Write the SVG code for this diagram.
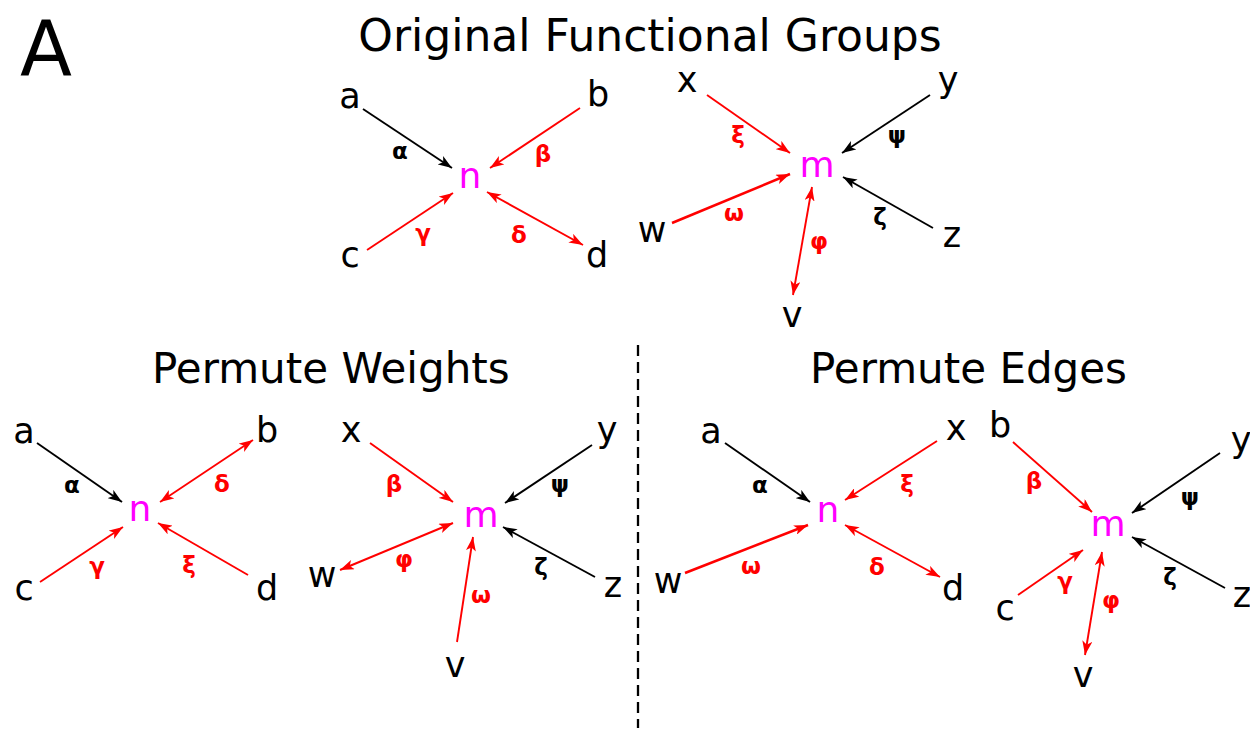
<svg xmlns="http://www.w3.org/2000/svg" width="1250" height="730" viewBox="0 0 1250 730">
<defs>
<marker id="hb" viewBox="0 0 14 10" refX="14" refY="5" markerWidth="14" markerHeight="10" markerUnits="userSpaceOnUse" orient="auto-start-reverse"><path d="M0,0 L14,5 L0,10 L3.5,5 z" fill="#000"/></marker>
<marker id="hr" viewBox="0 0 14 10" refX="14" refY="5" markerWidth="14" markerHeight="10" markerUnits="userSpaceOnUse" orient="auto-start-reverse"><path d="M0,0 L14,5 L0,10 L3.5,5 z" fill="#f00"/></marker>
<style>
text{font-family:"DejaVu Sans","Liberation Sans",sans-serif;text-anchor:middle}
.t{font-size:44px}
.h{font-size:42px;text-anchor:start}
.v{font-size:35px;fill:#000}
.c{font-size:36px;fill:#ff00ff}
.l{font-size:23px;font-weight:bold}
.lk{fill:#000}
.lr{fill:#f00}
.k{stroke:#000;stroke-width:1.9;fill:none;marker-end:url(#hb)}
.r{stroke:#f00;stroke-width:1.9;fill:none;marker-end:url(#hr)}
.rr{stroke:#f00;stroke-width:1.9;fill:none;marker-end:url(#hr);marker-start:url(#hr)}
.rt{stroke:#f00;stroke-width:2.6;fill:none;marker-end:url(#hr)}
</style>
</defs>
<g id="titles">
<text x="20" y="75" style="font-size:76px;text-anchor:start">A</text>
<text class="t" x="650" y="51">Original Functional Groups</text>
<text class="h" x="152" y="383">Permute Weights</text>
<text class="h" x="810" y="383">Permute Edges</text>
</g>
<g id="divider"><line x1="638" y1="345" x2="638" y2="728" stroke="#000" stroke-width="2.3" stroke-dasharray="11,6"/></g>
<g id="connectors">
<line class="k" x1="363" y1="109" x2="452" y2="168"/>
<line class="r" x1="580" y1="108" x2="490" y2="168"/>
<line class="r" x1="367" y1="250" x2="453" y2="193"/>
<line class="rr" x1="487" y1="192" x2="583" y2="245"/>
<line class="r" x1="707" y1="95" x2="790" y2="153"/>
<line class="k" x1="930" y1="95" x2="842" y2="153"/>
<line class="rt" x1="672" y1="223" x2="790" y2="174"/>
<line class="k" x1="933" y1="228" x2="843" y2="177"/>
<line class="rr" x1="812" y1="187" x2="793" y2="295"/>
<line class="k" x1="37" y1="443" x2="122" y2="502"/>
<line class="rr" x1="160" y1="502" x2="253" y2="440"/>
<line class="r" x1="40" y1="582" x2="123" y2="527"/>
<line class="r" x1="248" y1="575" x2="158" y2="523"/>
<line class="r" x1="370" y1="443" x2="453" y2="502"/>
<line class="k" x1="592" y1="445" x2="505" y2="503"/>
<line class="rr" x1="453" y1="523" x2="340" y2="570"/>
<line class="k" x1="595" y1="577" x2="503" y2="527"/>
<line class="r" x1="457" y1="642" x2="473" y2="537"/>
<line class="k" x1="725" y1="443" x2="810" y2="502"/>
<line class="r" x1="937" y1="441" x2="845" y2="500"/>
<line class="rt" x1="685" y1="573" x2="808" y2="525"/>
<line class="rr" x1="845" y1="525" x2="940" y2="577"/>
<line class="r" x1="1013" y1="442" x2="1092" y2="512"/>
<line class="k" x1="1220" y1="453" x2="1132" y2="513"/>
<line class="r" x1="1018" y1="595" x2="1083" y2="550"/>
<line class="k" x1="1225" y1="588" x2="1132" y2="537"/>
<line class="rr" x1="1102" y1="552" x2="1085" y2="655"/>
</g>
<g id="group-top-n">
<text class="v" x="350" y="108">a</text>
<text class="v" x="598" y="106">b</text>
<text class="v" x="350" y="267">c</text>
<text class="v" x="597" y="267">d</text>
<text class="c" x="470" y="188">n</text>
<text class="l lk" x="400" y="159">α</text>
<text class="l lr" x="543" y="162">β</text>
<text class="l lr" x="423" y="241">γ</text>
<text class="l lr" x="519" y="243">δ</text>
</g>
<g id="group-top-m">
<text class="v" x="687" y="92">x</text>
<text class="v" x="948" y="92">y</text>
<text class="v" x="652" y="242">w</text>
<text class="v" x="952" y="247">z</text>
<text class="v" x="792" y="327">v</text>
<text class="c" x="817" y="177">m</text>
<text class="l lr" x="738" y="143">ξ</text>
<text class="l lk" x="897" y="143">ψ</text>
<text class="l lr" x="734" y="221">ω</text>
<text class="l lk" x="880" y="225">ζ</text>
<text class="l lr" x="819" y="249">φ</text>
</g>
<g id="group-weights-n">
<text class="v" x="24" y="443">a</text>
<text class="v" x="267" y="442">b</text>
<text class="v" x="24" y="600">c</text>
<text class="v" x="267" y="600">d</text>
<text class="c" x="140" y="521">n</text>
<text class="l lk" x="72" y="493">α</text>
<text class="l lr" x="222" y="492">δ</text>
<text class="l lr" x="97" y="574">γ</text>
<text class="l lr" x="189" y="573">ξ</text>
</g>
<g id="group-weights-m">
<text class="v" x="351" y="442">x</text>
<text class="v" x="607" y="442">y</text>
<text class="v" x="322" y="587">w</text>
<text class="v" x="613" y="597">z</text>
<text class="v" x="455" y="677">v</text>
<text class="c" x="481" y="527">m</text>
<text class="l lr" x="394" y="492">β</text>
<text class="l lk" x="560" y="492">ψ</text>
<text class="l lr" x="404" y="567">φ</text>
<text class="l lk" x="541" y="575">ζ</text>
<text class="l lr" x="481" y="603">ω</text>
</g>
<g id="group-edges-n">
<text class="v" x="711" y="443">a</text>
<text class="v" x="956" y="440">x</text>
<text class="v" x="668" y="593">w</text>
<text class="v" x="953" y="600">d</text>
<text class="c" x="828" y="522">n</text>
<text class="l lk" x="760" y="493">α</text>
<text class="l lr" x="907" y="492">ξ</text>
<text class="l lr" x="751" y="574">ω</text>
<text class="l lr" x="877" y="575">δ</text>
</g>
<g id="group-edges-m">
<text class="v" x="1000" y="437">b</text>
<text class="v" x="1241" y="452">y</text>
<text class="v" x="1005" y="620">c</text>
<text class="v" x="1242" y="607">z</text>
<text class="v" x="1083" y="687">v</text>
<text class="c" x="1108" y="536">m</text>
<text class="l lr" x="1034" y="489">β</text>
<text class="l lk" x="1190" y="505">ψ</text>
<text class="l lr" x="1065" y="589">γ</text>
<text class="l lr" x="1111" y="608">φ</text>
<text class="l lk" x="1170" y="585">ζ</text>
</g>
</svg>
